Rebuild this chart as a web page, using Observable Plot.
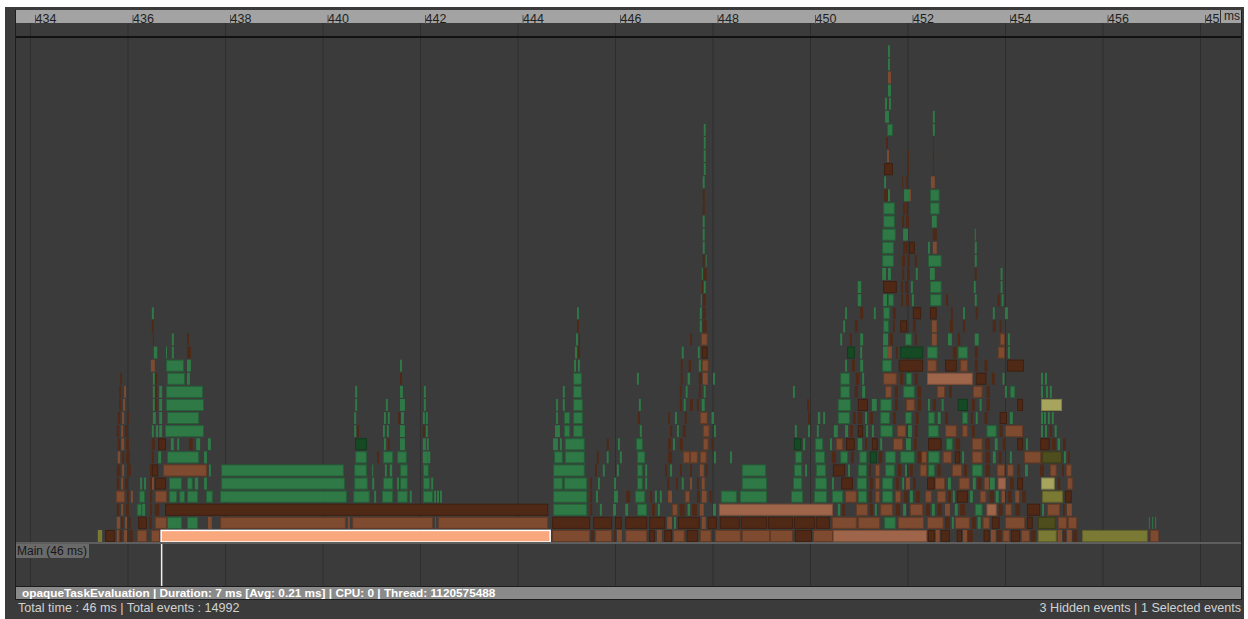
<!DOCTYPE html>
<html>
<head>
<meta charset="utf-8">
<script src="https://cdn.jsdelivr.net/npm/d3@7"></script>
<script src="https://cdn.jsdelivr.net/npm/@observablehq/plot@0.6"></script>
<style>
html,body{margin:0;padding:0;background:#fff;}
body{width:1248px;height:619px;position:relative;overflow:hidden;font-family:"Liberation Sans",Arial,sans-serif;}
.abs{position:absolute;}
#frame{left:5px;top:7px;width:1239px;height:612px;background:#3b3b3b;}
#ruler{left:16px;top:10px;width:1225px;height:13px;background:#a3a3a3;}
#chart{left:16px;top:10px;}
#msbox{left:1220px;top:10px;width:21px;height:13px;background:#a3a3a3;border-left:1px solid #333;box-sizing:border-box;font-size:12px;line-height:13px;color:#1e1e1e;padding-left:3px;}
#bandline{left:16px;top:36px;width:1225px;height:2px;background:#121212;}
#lborder{left:15px;top:10px;width:1px;height:590px;background:#1e1e1e;}
#rborder{left:1241px;top:10px;width:1px;height:590px;background:#1e1e1e;}
#lanesep{left:16px;top:542px;width:1225px;height:2px;background:#5e5e5e;}
#mainlabel{left:16px;top:544px;height:14px;padding:0 2px 0 1px;background:#6a6a6a;color:#161616;font-size:12px;line-height:14px;}
#status{left:16px;top:586px;width:1225px;height:14px;background:#8a8a8a;border-top:1px solid #1c1c1c;border-bottom:1px solid #1c1c1c;box-sizing:border-box;color:#fff;font-size:11.8px;font-weight:bold;line-height:12px;padding-left:6px;white-space:nowrap;}
#footL{left:18px;top:601px;color:#d2d2d2;font-size:12.6px;line-height:14px;}
#footR{right:7px;top:601px;color:#d2d2d2;font-size:12.6px;line-height:14px;}
</style>
</head>
<body>
<div id="frame" class="abs"></div>
<div id="ruler" class="abs"></div>
<div id="chart" class="abs"></div>
<div id="lborder" class="abs"></div>
<div id="rborder" class="abs"></div>
<div id="bandline" class="abs"></div>
<div id="msbox" class="abs">ms</div>
<div id="lanesep" class="abs"></div>
<div id="mainlabel" class="abs">Main (46 ms)</div>
<div id="status" class="abs">opaqueTaskEvaluation | Duration: 7 ms [Avg: 0.21 ms] | CPU: 0 | Thread: 1120575488</div>
<div id="footL" class="abs">Total time : 46 ms | Total events : 14992</div>
<div id="footR" class="abs">3 Hidden events | 1 Selected events</div>
<script>
// Ruler ticks (ms)
const rulerTicks = [434, 436, 438, 440, 442, 444, 446, 448, 450, 452, 454, 456, 458];
const timeDomain = [434, 458];
const maxDepth = 38;
const statusDepth = -3.32;

// Each row: [depth, start, end, start, end, ...] in ms
const greenEvents = [
  [1, 436.81,437.12, 437.22,437.45, 447.21,447.25, 451.52,451.76, 452.91,452.95, 453.44,453.50, 456.95,456.97, 457.02,457.04, 457.08,457.10],
  [2, 436.19,436.30, 436.30,436.36, 444.73,445.43, 445.69,445.73, 445.96,446.02, 446.21,446.27, 446.45,446.66, 446.88,446.92, 447.49,447.54, 448.01,448.07, 450.57,450.62, 451.33,451.37, 451.91,451.97, 452.50,452.56, 452.97,453.03, 453.38,453.54, 454.76,454.80],
  [3, 436.24,436.36, 436.85,437.02, 437.06,437.18, 437.22,437.45, 437.61,437.75, 437.90,440.50, 440.63,440.97, 441.06,441.10, 441.22,441.45, 441.53,441.75, 441.79,441.83, 442.06,442.27, 442.29,442.33, 442.35,442.39, 442.41,442.45, 444.73,445.43, 445.61,445.65, 445.98,446.06, 446.41,446.62, 446.82,446.86, 446.92,446.96, 448.17,448.50, 448.56,449.12, 449.61,449.86, 450.08,450.35, 450.45,450.68, 450.98,451.17, 451.48,451.70, 452.05,452.11, 452.93,452.97, 453.28,453.34, 453.81,453.87],
  [4, 436.26,436.30, 436.34,436.38, 436.85,437.12, 437.22,437.34, 437.38,437.45, 437.57,437.63, 437.92,440.46, 440.65,440.93, 441.02,441.06, 441.24,441.45, 441.53,441.57, 441.59,441.75, 442.06,442.21, 442.23,442.27, 444.73,444.93, 444.95,445.43, 445.65,445.69, 445.98,446.02, 446.45,446.57, 446.62,446.66, 447.37,447.41, 448.60,449.12, 449.65,449.84, 450.10,450.35, 450.45,450.49, 450.96,451.17, 451.48,451.70, 451.89,451.93, 452.83,452.89, 453.34,453.40, 453.69,453.79],
  [5, 437.67,437.71, 437.92,440.44, 440.65,440.91, 441.02,441.04, 441.28,441.32, 441.38,441.43, 441.59,441.75, 442.06,442.18, 444.73,445.38, 445.75,445.79, 446.04,446.08, 446.45,446.57, 446.62,446.66, 447.13,447.17, 448.60,449.10, 449.67,449.84, 449.90,449.94, 450.12,450.33, 450.78,450.82, 450.98,451.17, 451.54,451.74, 451.95,451.99, 452.42,452.56, 453.32,453.54, 454.41,454.47],
  [6, 436.63,436.69, 436.81,437.47, 437.57,437.63, 440.67,440.91, 441.24,441.45, 441.53,441.73, 442.06,442.16, 442.16,442.21, 444.75,444.93, 444.97,445.38, 445.83,445.87, 446.10,446.14, 446.45,446.62, 448.03,448.07, 448.36,448.40, 449.69,449.84, 450.10,450.31, 450.62,450.78, 451.01,451.17, 451.54,451.76, 451.85,452.15, 452.42,452.66, 453.12,453.16, 453.75,453.81, 454.10,454.14, 455.21,455.25],
  [7, 436.89,436.95, 437.02,437.06, 437.41,437.49, 437.65,437.71, 441.26,441.30, 441.59,441.69, 442.06,442.12, 442.14,442.18, 444.73,444.83, 444.87,444.91, 444.97,445.38, 446.06,446.10, 446.43,446.57, 447.19,447.23, 449.86,449.90, 450.10,450.27, 450.41,450.45, 450.98,451.07, 451.44,451.48, 451.97,452.07, 452.79,452.93, 453.79,453.85, 454.43,454.47, 455.08,455.13],
  [8, 436.50,436.54, 436.58,436.63, 436.65,436.71, 436.77,437.57, 440.65,440.69, 441.24,441.28, 441.32,441.36, 441.59,441.69, 442.12,442.16, 444.77,444.87, 444.95,445.08, 445.14,445.34, 446.51,446.55, 447.27,447.31, 448.03,448.07, 449.69,449.73, 449.96,450.00, 450.14,450.18, 450.49,450.57, 450.72,450.78, 451.15,451.19, 451.27,451.31, 451.44,451.70, 452.01,452.09, 452.42,452.64, 453.62,453.83, 454.74,454.78, 454.82,454.86, 455.02,455.06],
  [9, 436.52,436.58, 436.65,436.71, 436.81,437.47, 440.65,440.69, 441.26,441.30, 441.34,441.38, 441.61,441.67, 442.06,442.10, 442.12,442.16, 444.79,444.83, 444.95,445.08, 445.14,445.34, 447.23,447.27, 447.98,448.03, 450.16,450.21, 450.27,450.31, 450.57,450.82, 451.13,451.17, 451.44,451.64, 451.95,452.09, 452.42,452.56, 452.62,452.68, 453.12,453.24, 453.40,453.44, 454.10,454.16, 454.74,454.78, 454.80,454.84, 454.88,454.92, 454.96,455.00],
  [10, 436.52,436.56, 436.65,436.71, 436.79,437.57, 440.67,440.71, 441.30,441.34, 441.59,441.69, 442.08,442.12, 444.79,444.83, 444.93,444.97, 445.14,445.34, 446.49,446.53, 447.41,447.45, 447.78,447.84, 450.57,450.84, 451.27,451.37, 451.44,451.68, 452.42,452.46, 452.70,452.74, 453.48,453.52],
  [11, 436.52,436.56, 436.65,436.71, 436.79,437.55, 440.67,440.71, 441.59,441.65, 442.08,442.12, 444.93,444.97, 445.14,445.32, 447.45,447.49, 447.82,447.86, 449.65,449.69, 450.62,450.82, 451.07,451.13, 451.91,452.15, 454.00,454.04, 454.10,454.21, 454.74,454.78, 454.84,454.88, 454.92,454.96],
  [12, 436.52,436.56, 436.81,437.18, 437.22,437.28, 445.14,445.32, 446.45,446.49, 447.49,447.54, 448.01,448.05, 450.62,450.82, 451.07,451.11, 451.97,452.09, 453.95,453.99, 454.74,454.78, 454.82,454.86],
  [13, 436.79,437.16, 437.22,437.30, 441.59,441.63, 445.16,445.20, 445.24,445.28, 447.72,447.76, 450.72,450.76, 451.03,451.09, 451.48,451.68],
  [14, 436.54,436.61, 436.79,436.81, 436.91,436.95, 445.18,445.22, 447.37,447.41, 447.70,447.74, 451.03,451.07, 451.50,451.58, 452.40,452.62, 453.03,453.24, 454.06,454.10],
  [15, 436.91,436.95, 445.20,445.24, 450.62,450.66, 451.03,451.09, 451.50,451.60, 451.95,452.09, 452.83,452.91, 453.38,453.46, 454.06,454.10],
  [16, 447.74,447.78, 450.68,450.72, 451.50,451.62],
  [17, 436.50,436.54, 445.22,445.26, 447.74,447.78, 450.72,450.76, 451.31,451.35, 451.50,451.64, 453.14,453.18, 453.75,453.79, 454.00,454.06],
  [18, 447.76,447.78, 450.98,451.05, 451.50,451.58, 451.60,451.72, 452.09,452.13, 452.46,452.70, 453.38,453.42, 453.93,453.97],
  [19, 447.82,447.86, 450.98,451.05, 452.07,452.11, 452.46,452.70, 453.36,453.40, 453.91,453.95],
  [20, 447.78,447.80, 451.48,451.56, 451.60,451.66, 452.17,452.21, 452.46,452.56, 453.91,453.95],
  [21, 447.86,447.88, 451.48,451.72, 452.42,452.70, 453.38,453.42],
  [22, 447.80,447.84, 451.48,451.72, 452.42,452.46, 453.38,453.42],
  [23, 447.80,447.84, 451.48,451.76, 451.91,452.01, 453.38,453.40],
  [24, 447.80,447.84, 451.50,451.74, 452.50,452.60],
  [25, 451.50,451.74, 452.46,452.66],
  [26, 451.60,451.64, 451.93,452.03, 452.46,452.66],
  [27, 447.80,447.84, 451.52,451.56],
  [28, 447.82,447.86],
  [29, 447.82,447.86],
  [30, 447.82,447.86],
  [31, 447.82,447.86, 451.58,451.70, 452.52,452.56],
  [32, 451.54,451.58, 451.58,451.62, 452.52,452.56],
  [33, 451.54,451.58, 451.62,451.66],
  [34, 451.60,451.66],
  [36, 451.60,451.64],
  [37, 451.60,451.64]
];

const darkGreenEvents = [
  [6, 451.23,451.37],
  [7, 440.67,440.91, 449.67,449.82],
  [10, 453.03,453.24],
  [14, 450.76,450.92, 451.85,452.32]
];

const darkBrownEvents = [
  [0, 435.54,435.74, 435.85,435.89, 436.03,436.11, 445.51,445.57, 445.98,446.02, 446.70,446.82, 447.01,447.17, 447.47,447.70, 449.69,450.04, 452.42,452.56, 452.68,452.87, 453.01,453.12, 453.24,453.34, 453.56,453.69, 453.83,453.93, 454.12,454.31, 454.53,454.63, 455.19,455.25, 455.39,455.48],
  [1, 435.87,435.91, 436.03,436.07, 436.22,436.40, 436.44,436.50, 444.71,445.49, 445.55,445.94, 446.00,446.14, 446.21,446.66, 446.70,447.03, 447.29,447.74, 447.90,448.09, 448.15,448.56, 448.58,449.12, 449.14,449.65, 449.67,450.10, 450.12,450.41, 452.77,452.87, 453.32,453.40, 453.73,453.89, 454.45,454.57],
  [2, 435.78,435.83, 435.97,436.03, 436.46,436.50, 436.56,436.65, 436.77,444.63, 445.49,445.53, 446.76,446.82, 447.33,447.43, 447.58,447.68, 450.66,450.72, 451.23,451.29, 451.76,451.85, 452.38,452.46, 452.62,452.70, 453.08,453.18, 453.87,453.95, 454.21,454.31, 454.45,454.72, 455.19,455.23],
  [3, 435.99,436.03, 436.46,436.50, 445.49,445.53, 446.23,446.31, 446.72,446.76, 447.68,447.74, 447.94,447.98, 451.21,451.27, 451.93,451.99, 452.17,452.25, 452.83,452.89, 453.01,453.24, 453.69,453.77, 454.06,454.14, 454.35,454.43, 455.23,455.37],
  [4, 435.78,435.83, 435.95,436.01, 436.46,436.50, 436.56,436.79, 445.49,445.53, 447.07,447.11, 447.25,447.29, 447.68,447.72, 450.64,450.88, 451.23,451.29, 451.76,451.82, 452.11,452.17, 452.40,452.56, 453.44,453.52, 454.10,454.18, 454.25,454.37, 455.08,455.13],
  [5, 435.78,435.85, 435.99,436.07, 436.46,436.50, 436.50,436.63, 445.59,445.63, 447.03,447.07, 447.33,447.37, 447.54,447.58, 447.86,447.90, 450.47,450.72, 451.21,451.25, 451.80,451.87, 452.05,452.11, 452.62,452.68, 453.16,453.22, 453.60,453.69, 454.25,454.31, 454.72,454.80, 455.17,455.21],
  [6, 435.89,435.93, 435.97,436.05, 436.50,436.54, 441.12,441.16, 445.63,445.67, 447.09,447.17, 450.45,450.53, 450.84,450.90, 451.41,451.48, 452.21,452.28, 452.97,453.08, 453.60,453.69, 453.87,453.93, 455.29,455.33],
  [7, 435.80,435.85, 435.97,436.03, 436.50,436.56, 436.63,436.79, 437.26,437.34, 441.34,441.38, 445.83,445.87, 447.09,447.15, 447.33,447.39, 447.98,448.03, 450.74,450.92, 451.13,451.17, 451.27,451.39, 452.13,452.19, 452.42,452.70, 452.99,453.08, 453.60,453.69, 453.95,454.02, 454.25,454.37, 454.72,454.92, 454.96,455.04, 455.19,455.25],
  [8, 435.78,435.83, 435.95,436.01, 440.71,440.75, 442.06,442.10, 447.13,447.17, 447.39,447.45, 450.82,450.88, 450.98,451.09, 452.15,452.21, 453.32,453.38, 453.89,453.95, 454.92,454.96],
  [9, 435.80,435.85, 435.99,436.03, 441.55,441.59, 446.47,446.51, 447.09,447.13, 447.43,447.47, 449.96,450.00, 450.88,450.94, 450.98,451.07, 451.23,451.29, 451.70,451.76, 452.17,452.23, 452.77,452.83, 453.30,453.34, 453.58,453.64, 453.89,454.04],
  [10, 435.83,435.87, 436.56,436.61, 447.33,447.37, 447.54,447.60, 447.68,447.72, 449.94,449.98, 450.98,451.19, 451.74,451.80, 452.21,452.28, 452.52,452.58, 453.32,453.38, 453.62,453.69, 454.25,454.37],
  [11, 435.83,435.87, 436.56,436.61, 447.33,447.37, 447.72,447.76, 450.92,450.98, 451.74,451.80, 452.21,452.28, 452.85,452.91, 453.62,453.69],
  [12, 435.85,435.89, 436.56,436.61, 441.59,441.63, 447.35,447.39, 447.72,447.78, 450.94,451.01, 451.85,451.91, 452.15,452.21, 453.40,453.62, 453.73,453.79],
  [13, 447.35,447.39, 447.51,447.56, 450.86,450.92, 451.82,452.32, 452.77,453.01, 453.38,453.44, 453.58,453.64, 454.04,454.39],
  [14, 437.22,437.30, 445.24,445.28, 447.78,447.90, 451.76,451.80, 452.93,453.01, 453.38,453.44],
  [15, 436.52,436.54, 437.22,437.26, 445.26,445.28, 447.54,447.58, 450.82,450.86, 451.64,451.70, 452.15,452.19, 453.03,453.08],
  [16, 436.50,436.54, 445.22,445.26, 447.80,447.88, 450.92,450.98, 451.70,451.74, 451.85,451.99, 452.11,452.17, 452.87,452.93, 453.14,453.18, 453.75,453.81, 453.89,453.93],
  [17, 447.80,447.86, 451.03,451.09, 451.70,451.76, 452.11,452.28, 452.46,452.60, 452.89,452.93, 453.40,453.44],
  [18, 447.80,447.86, 451.87,451.91, 451.97,452.03, 452.79,452.83, 453.85,453.89],
  [19, 447.78,447.82, 451.50,451.78, 451.87,451.91, 451.95,452.01],
  [20, 447.82,447.88, 451.89,451.93, 451.99,452.05, 453.38,453.42],
  [21, 447.80,447.84, 451.89,451.95, 452.01,452.05, 452.15,452.19],
  [22, 451.91,451.99, 452.03,452.15],
  [23, 452.52,452.60],
  [24, 451.89,451.93, 451.97,452.03],
  [25, 447.80,447.84, 451.91,451.95, 451.97,452.01],
  [26, 447.80,447.84, 451.52,451.60],
  [27, 451.89,451.91, 451.97,451.99],
  [28, 451.52,451.70, 452.01,452.03, 452.52,452.54],
  [29, 452.01,452.03, 452.52,452.54],
  [30, 451.56,451.60, 452.52,452.54]
];

const brownEvents = [
  [0, 435.78,435.83, 435.93,435.99, 436.19,436.40, 436.48,436.67, 444.71,445.49, 445.59,445.94, 446.04,446.14, 446.21,446.66, 446.86,446.96, 447.19,447.43, 447.74,447.98, 448.05,448.58, 448.60,449.18, 449.18,449.65, 450.06,450.47, 452.58,452.66, 453.14,453.22, 453.71,453.81, 453.95,454.10, 454.33,454.51, 455.08,455.17, 455.27,455.37, 456.97,457.16],
  [1, 435.78,435.85, 435.95,435.99, 436.56,436.81, 437.65,437.73, 437.90,440.48, 440.52,440.56, 440.61,442.27, 442.31,442.33, 442.37,444.63, 447.07,447.17, 447.78,447.86, 450.45,450.96, 450.98,451.44, 451.80,452.34, 452.40,452.74, 452.97,453.28, 453.54,453.69, 454.00,454.41, 455.08,455.27, 455.29,455.48],
  [2, 435.87,435.91, 447.17,447.29, 447.74,447.82, 450.94,451.19, 451.44,451.70, 452.05,452.32, 452.77,452.87, 454.00,454.14, 454.86,455.13, 455.27,455.37],
  [3, 435.76,435.95, 436.07,436.11, 436.56,436.81, 447.09,447.17, 447.43,447.54, 447.78,447.88, 450.72,450.96, 451.33,451.44, 451.74,451.87, 452.36,452.50, 452.60,452.79, 453.48,453.62, 453.93,454.00, 454.21,454.29],
  [4, 435.87,435.91, 436.50,436.54, 447.54,447.58, 447.78,447.84, 451.33,451.44, 451.97,452.05, 452.56,452.77, 453.05,453.28, 453.58,453.67, 455.27,455.39],
  [5, 435.89,435.93, 436.73,437.63, 447.74,447.82, 451.33,451.44, 452.25,452.40, 452.91,453.12, 453.83,454.00, 454.04,454.18, 454.92,455.06, 455.25,455.37],
  [6, 435.80,435.85, 447.39,447.54, 447.54,447.70, 447.74,447.88, 452.28,452.40, 452.72,452.91, 453.32,453.54, 454.39,454.74],
  [7, 435.87,435.93, 447.80,447.92, 450.53,450.68, 451.70,451.91, 453.32,453.54],
  [8, 435.87,435.91, 447.80,447.94, 451.78,451.97, 452.77,453.01, 453.12,453.24, 454.00,454.37],
  [9, 435.89,435.93, 447.74,447.90],
  [10, 435.91,435.95, 451.97,452.15],
  [11, 435.93,435.97, 451.54,451.68, 452.60,452.77, 453.34,453.54],
  [12, 447.80,447.90, 451.50,451.78],
  [13, 436.48,436.56, 447.78,447.92, 452.40,452.60, 453.08,453.24],
  [14, 451.58,451.68, 453.85,454.00],
  [15, 447.76,447.90, 452.50,452.60, 453.89,454.00],
  [16, 452.50,452.60],
  [22, 452.52,452.60],
  [26, 452.03,452.07],
  [27, 452.48,452.56],
  [29, 451.58,451.62],
  [35, 451.60,451.66]
];

const lightBrownEvents = [
  [0, 450.47,452.40],
  [2, 448.13,450.47, 453.62,453.83],
  [4, 453.85,454.02],
  [12, 452.40,453.34]
];

const oliveEvents = [
  [0, 435.39,435.48, 454.67,455.06, 455.58,456.93],
  [3, 454.76,455.19]
];
const lightOliveEvents = [
  [4, 454.74,455.02],
  [10, 454.74,455.17]
];
const darkOliveEvents = [
  [1, 454.67,455.04],
  [6, 454.76,455.17]
];
const selectedEvents = [
  [0, 436.69,444.67]
];

const palette = {
  green: "#2f7947", darkGreen: "#164a24", darkBrown: "#4f2916", brown: "#7e4b30",
  lightBrown: "#9e654a", olive: "#7b7a34", lightOlive: "#a7a55d", darkOlive: "#4d4d1e",
  selected: "#f8a87c"
};

function flatten(rows) {
  const out = [];
  for (const r of rows) {
    const d = r[0];
    for (let i = 1; i < r.length; i += 2) out.push({d, s: r[i], e: r[i + 1]});
  }
  return out;
}

const pxPerMs = 1170 / 24;
function layer(rows, color) {
  const all = flatten(rows);
  const wide = all.filter(v => (v.e - v.s) * pxPerMs >= 5);
  const thin = all.filter(v => (v.e - v.s) * pxPerMs < 5);
  return [
    Plot.rect(thin, {x1: "s", x2: "e", y1: "d", y2: v => v.d + 1, fill: color, insetTop: 0.6, insetBottom: 0.6}),
    Plot.rect(wide, {x1: "s", x2: "e", y1: "d", y2: v => v.d + 1, fill: color,
      stroke: d3.color(color).darker(0.7).formatHex(), strokeWidth: 1,
      insetTop: 1, insetBottom: 1, insetLeft: 0.5, insetRight: 0.5})
  ];
}

const selStart = flatten(selectedEvents)[0].s;

const chart = Plot.plot({
  width: 1224,
  height: 576,
  marginTop: 13, marginRight: 0, marginBottom: 0, marginLeft: 0,
  x: {domain: timeDomain, range: [14, 1184]},
  y: {domain: [0, maxDepth], range: [532.5, 34.7], axis: null},
  style: {background: "transparent", color: "#1e1e1e", fontFamily: "Liberation Sans, Arial, sans-serif", overflow: "visible"},
  marks: [
    Plot.ruleX(rulerTicks, {stroke: "#2e2e2e", strokeWidth: 1}),
    ...layer(brownEvents, palette.brown),
    ...layer(darkBrownEvents, palette.darkBrown),
    ...layer(lightBrownEvents, palette.lightBrown),
    ...layer(greenEvents, palette.green),
    ...layer(darkGreenEvents, palette.darkGreen),
    ...layer(oliveEvents, palette.olive),
    ...layer(lightOliveEvents, palette.lightOlive),
    ...layer(darkOliveEvents, palette.darkOlive),
    Plot.rect(flatten(selectedEvents), {x1: "s", x2: "e", y1: "d", y2: v => v.d + 1, fill: palette.selected, stroke: "#ffffff", strokeWidth: 1.5, insetTop: 1, insetBottom: 0.5}),
    Plot.ruleX([selStart], {x: v => v, y1: 0, y2: statusDepth, stroke: "#f0f0f0", strokeWidth: 1.5}),
    Plot.axisX(rulerTicks, {anchor: "top", tickSize: 9, tickPadding: -8, textAnchor: "start", dx: 5, fontSize: 12.5, stroke: "#555", tickFormat: v => String(v)})
  ]
});
document.getElementById("chart").appendChild(chart);
</script>
</body>
</html>
